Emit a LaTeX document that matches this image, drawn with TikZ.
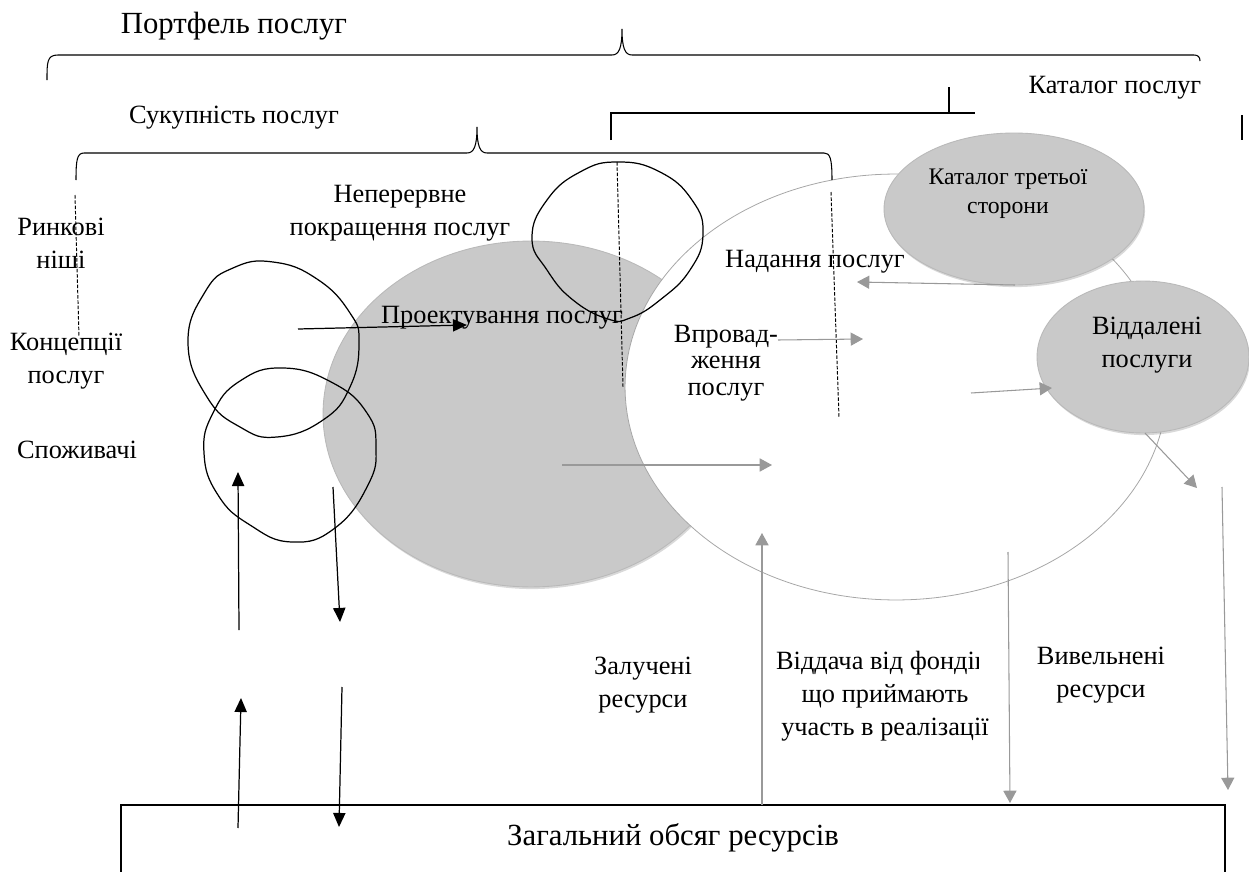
\documentclass[tikz,border=0pt]{standalone}
\usepackage{fontspec}
\setmainfont{Liberation Serif}
\usetikzlibrary{arrows.meta,shapes,positioning,shadows}

\tikzset{
  txt/.style={font=\fontsize{15}{18.5}\selectfont, inner sep=0pt, align=center, anchor=base},
  bigtxt/.style={font=\fontsize{17.5}{21}\selectfont, inner sep=0pt, anchor=base},
  smalltxt/.style={font=\fontsize{13.5}{16}\selectfont, inner sep=0pt, align=center, anchor=base},
  brace/.style={line width=0.6pt},
  freeloop/.style={line width=0.7pt},
  guide/.style={dash pattern=on 2pt off 1pt, line width=0.55pt},
  blackarrow/.style={-{Triangle[length=8pt,width=7pt]}, line width=0.7pt},
  greyarrow/.style={-{Triangle[length=7pt,width=7.5pt]}, draw=gray!80, line width=0.6pt},
  greyblob/.style={fill=gray!42, draw=gray!55, line width=0.5pt,
    drop shadow={opacity=0.3, shadow xshift=0.6pt, shadow yshift=-1.2pt}},
}

\begin{document}
\begin{tikzpicture}[x=0.02cm,y=-0.02cm]
\useasboundingbox (0,0) rectangle (1249,872);

% shaded areas
\fill[greyblob] (531,414) ellipse [x radius=4.16cm, y radius=3.46cm];
\filldraw[fill=white, draw=gray!70, line width=0.45pt] (896,387) ellipse [x radius=5.42cm, y radius=4.26cm];
\fill[greyblob] (1014,209) ellipse [x radius=2.6cm, y radius=1.52cm];
\fill[greyblob] (1143,357) ellipse [x radius=2.12cm, y radius=1.52cm];

% braces
\draw[brace] (47,80) .. controls (47,62) and (47,55) .. (58,55) -- (612,55)
  .. controls (619,55) and (622,48) .. (622,29) .. controls (622,48) and (625,55) .. (632,55)
  -- (1194,55) .. controls (1198,55) and (1200,57) .. (1200,61);
\draw[brace] (76,180) .. controls (76,160) and (77,153) .. (84,153) -- (467,153)
  .. controls (474,153) and (477,146) .. (477,127) .. controls (477,146) and (480,153) .. (487,153)
  -- (824,153) .. controls (830,153) and (832,158) .. (832,180);
\draw[brace] (611,140) -- (611,113) -- (975,113);
\draw[brace] (949,87) -- (949,113);
\draw[brace] (1242,115) -- (1242,140);

% hand drawn loops
\draw[freeloop] plot[smooth cycle, tension=0.8] coordinates {(188,343) (205,292) (233,268) (273,262)
  (317,279) (350,313) (359,343) (350,387) (323,420) (277,437) (240,427) (207,397)};
\draw[freeloop] plot[smooth cycle, tension=0.8] coordinates {(204,453) (213,413) (240,381) (283,368)
  (333,383) (367,413) (376,447) (368,485) (335,528) (292,542) (250,525) (218,495)};
\draw[freeloop] plot[smooth cycle, tension=0.8] coordinates {(532,238) (547,200) (580,172) (618,162)
  (660,172) (692,200) (703,234) (690,270) (660,300) (630,318) (608,319) (573,300) (547,270)};

% dashed guides
\draw[guide] (75,195) -- (79,337);
\draw[guide] (617,162) -- (623,387);
\draw[guide] (831,192) -- (839,417);

% labels (multi-line ones sit on their last baseline)
\node[bigtxt] (portfolio) at (234,33) {Портфель послуг};
\node[txt] (pipeline) at (234,123) {Сукупність послуг};
\node[txt] (catalog) at (1115,93) {Каталог послуг};
\node[txt] (niches) at (61,268) {Ринкові\\ніші};
\node[txt] (concepts) at (66,383) {Концепції\\послуг};
\node[txt] (customers) at (77,458) {Споживачі};
\node[txt] (improve) at (400,235) {Неперервне\\покращення послуг};
\node[txt] (design) at (502,323) {Проектування послуг};
\node[txt] (operation) at (815,267) {Надання послуг};
\node[smalltxt] (thirdparty) at (1008,213) {Каталог третьої\\сторони};
\node[txt, font=\fontsize{15}{15}\selectfont] (transition) at (726,395) {Впровад-\\ження\\послуг};
\node[txt] (retired) at (1147,367) {Віддалені\\послуги};
\node[txt] (engaged) at (643,707) {Залучені\\ресурси};
\begin{scope}
  \clip (700,640) -- (978,640) -- (978,680) -- (1000,680) -- (1000,760) -- (700,760) -- cycle;
  \node[txt] (returns) at (885,735) {Віддача від фондів,\\що приймають\\участь в реалізації};
\end{scope}
\node[txt] (released) at (1101,697) {Вивельнені\\ресурси};

% resource pool
\draw[line width=1.6pt] (121,885) |- (1225,805) -- (1225,885);
\node[bigtxt] (total) at (673,845) {Загальний обсяг ресурсів};

% arrow ends
\coordinate (c1) at (298,329);  \coordinate (c2) at (467,325);
\coordinate (u1) at (239,630);  \coordinate (u2) at (238,472);
\coordinate (d1) at (333,487);  \coordinate (d2) at (340,622);
\coordinate (u3) at (238,828);  \coordinate (u4) at (241,698);
\coordinate (d3) at (342,687);  \coordinate (d4) at (339,827);
\coordinate (g1) at (562,465);  \coordinate (g2) at (772,465);
\coordinate (t1) at (1015,285); \coordinate (t2) at (857,282);
\coordinate (i1) at (778,340);  \coordinate (i2) at (863,339);
\coordinate (r1) at (971,393);  \coordinate (r2) at (1052,388);
\coordinate (r3) at (1145,433); \coordinate (r4) at (1197,488);
\coordinate (r5) at (1222,487); \coordinate (r6) at (1228,790);
\coordinate (p1) at (762,805);  \coordinate (p2) at (762,533);
\coordinate (p3) at (1008,552); \coordinate (p4) at (1010,803);

\draw[blackarrow] (c1) -- (c2);
\draw[blackarrow] (u1) -- (u2);
\draw[blackarrow] (d1) -- (d2);
\draw[blackarrow] (u3) -- (u4);
\draw[blackarrow] (d3) -- (d4);
\draw[greyarrow] (g1) -- (g2);
\draw[greyarrow] (t1) -- (t2);
\draw[greyarrow] (i1) -- (i2);
\draw[greyarrow] (r1) -- (r2);
\draw[greyarrow] (r3) -- (r4);
\draw[greyarrow] (r5) -- (r6);
\draw[greyarrow] (p1) -- (p2);
\draw[greyarrow] (p3) -- (p4);
\end{tikzpicture}
\end{document}
